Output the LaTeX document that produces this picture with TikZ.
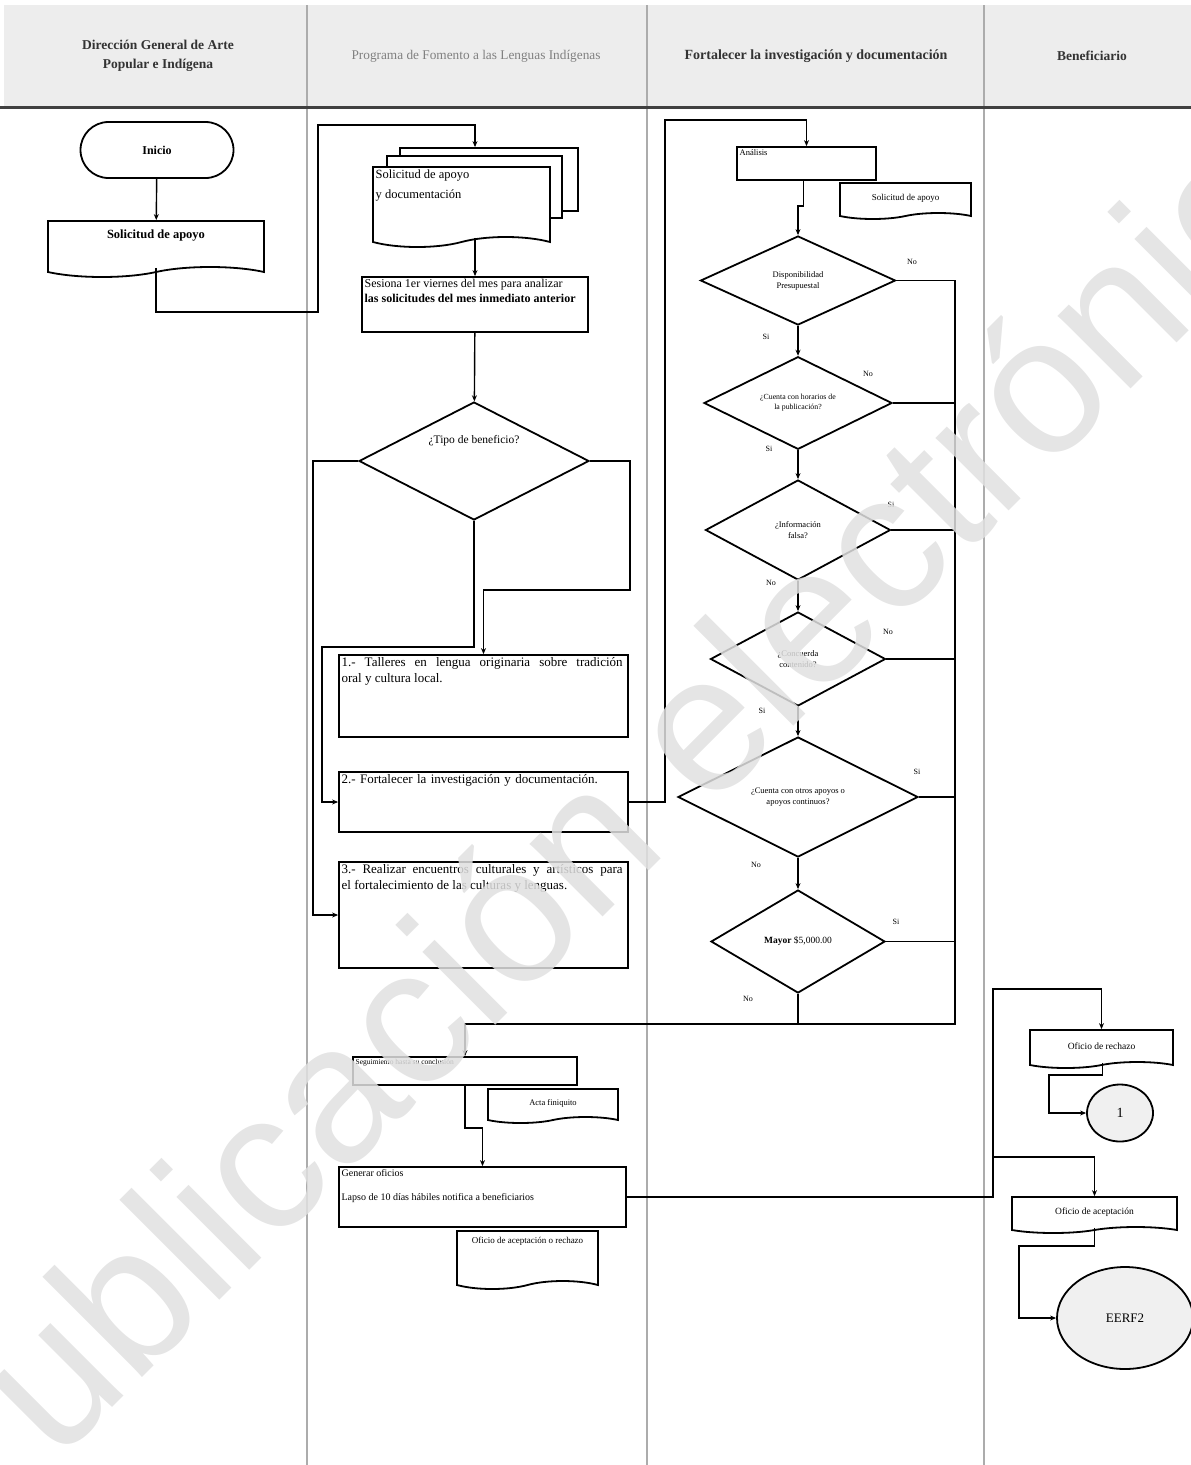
\documentclass[tikz,border=0pt]{standalone}
\usepackage{fontspec}
\setmainfont{Liberation Serif}
\newfontfamily\wmfont{Liberation Sans}
\usetikzlibrary{positioning, arrows.meta, shapes.geometric, shapes.symbols}
\newcommand\fsz[2]{\fontsize{#1}{#2}\selectfont}

\begin{document}
\begin{tikzpicture}[x=1pt, y=-1pt, font=\fsz{8}{10}, >={Stealth[length=6pt,width=5pt]},
  lane/.style={draw=gray!65, line width=1.4pt},
  hdr/.style={align=center, text=black!80, font=\fsz{13.5}{19}\bfseries},
  term/.style={draw, line width=1.8pt, rounded corners=28pt},
  proc/.style={draw, line width=1.8pt, fill=white, inner sep=0pt},
  doc/.style={draw, line width=1.8pt, fill=white, tape, tape bend top=none, tape bend bottom=in and out, tape bend height=10pt, inner sep=0pt},
  dec/.style={draw, diamond, line width=1.8pt, inner sep=0pt, align=center, font=\fsz{8.5}{11}},
  conn/.style={line width=1.4pt, ->},
  wire/.style={line width=1.4pt},
  yn/.style={font=\fsz{8}{9}},
  ovl/.style={draw, ellipse, line width=1.8pt, fill=gray!12},
  wm/.style={font=\wmfont\fsz{195}{195}, text=gray!24, opacity=0.85, rotate=45}]
  \clip (0,0) rectangle (1191,1465);
  % header and lanes
  \fill[black!7] (4,5) rectangle (1191,106);
  \foreach \x in {307,647,984} \draw[lane] (\x,5) -- (\x,1465);
  \draw[line width=3pt, black!75] (0,107) -- (1191,107);
  \node[hdr] (h1) at (158,56) {Dirección General de Arte\\Popular e Indígena};
  \node[hdr, font=\fsz{13.3}{16}, text=black!50] (h2) at (476,56) {Programa de Fomento a las Lenguas Indígenas};
  \node[hdr, font=\fsz{14}{16}\bfseries] (h3) at (816,56) {Fortalecer la investigación y documentación};
  \node[hdr] (h4) at (1092,56) {Beneficiario};

  % lane 1
  \node[term, minimum width=153, minimum height=56, font=\fsz{12}{14}\bfseries] (ini) at (157,150) {Inicio};
  \node[doc, minimum width=216, minimum height=56, label={[anchor=north, yshift=-6pt, font=\fsz{12.5}{14}\bfseries]north:Solicitud de apoyo}] (sol) at (156,244) {};
  \draw[conn] (ini) -- (sol);

  % lane 2
  \node[proc, minimum width=178, minimum height=63] (r3) at (489,179.5) {};
  \node[proc, minimum width=175, minimum height=62] (r2) at (474.5,187) {};
  \node[doc, minimum width=177, minimum height=80, label={[anchor=north west, align=left, font=\fsz{12.5}{20}]north west:Solicitud de apoyo\\y documentación}] (sd) at (461.5,202) {};
  \draw[conn] (sol.south) |- (318,312) -- (318,125) -| ([xshift=-14pt]r3.north);
  \node[proc, minimum width=226, minimum height=55, label={[anchor=north west, align=left, font=\fsz{12}{15}]north west:Sesiona 1er viernes del mes para analizar\\\textbf{las solicitudes del mes inmediato anterior}}] (ses) at (475,304.5) {};
  \draw[conn] (sd.south -| ses.north) -- (ses.north);
  \node[dec, minimum width=230, minimum height=118] (tipo) at (474,461) {};
  \node[font=\fsz{11.5}{13}] (tipot) at ([yshift=20pt]tipo.center) {¿Tipo de beneficio?};
  \draw[conn] (ses) -- (tipo);
  \node[proc, minimum width=289, minimum height=82, label={[anchor=north west, text width=281, align=justify, font=\fsz{13}{16}]north west:1.- Talleres en lengua originaria sobre tradición\linebreak oral y cultura local.}] (b1) at (483.5,696) {};
  \node[proc, minimum width=289, minimum height=60, label={[anchor=north west, text width=281, align=left, font=\fsz{13}{16}]north west:2.- Fortalecer la investigación y documentación.}] (b2) at (483.5,802) {};
  \node[proc, minimum width=289, minimum height=106, label={[anchor=north west, text width=281, align=justify, font=\fsz{13}{16}]north west:3.- Realizar encuentros culturales y artísticos para\linebreak el fortalecimiento de las culturas y lenguas.}] (b3) at (483.5,915) {};
  \draw[conn] (tipo.west) -- (313,461) |- (b3.west);
  \draw[conn] (tipo.south) |- (322,647) |- (b2.west);
  \draw[conn] (tipo.east) -| (630,590) -| (b1.north);

  % lane 3
  \node[doc, minimum width=131, minimum height=36, tape bend height=6pt, font=\fsz{9}{10}] (sa) at (905.5,198) {Solicitud de apoyo};
  \node[proc, minimum width=139, minimum height=33, label={[anchor=north west, font=\fsz{8.5}{10}]north west:Análisis}] (ana) at (806.5,163.5) {};
  \draw[conn] (b2.east) -| (665,120) -| (ana.north);
  \node[dec, minimum width=195, minimum height=89] (d1) at (798,280.5) {Disponibilidad\\Presupuestal};
  \node[dec, minimum width=188, minimum height=90, font=\fsz{7.8}{10}] (d2) at (798,403) {¿Cuenta con horarios de\\la publicación?};
  \node[dec, minimum width=185, minimum height=100] (d3) at (798,530) {¿Información\\falsa?};
  \node[dec, minimum width=175, minimum height=94] (d4) at (798,659) {¿Concuerda\\contenido?};
  \node[dec, minimum width=240, minimum height=120] (d5) at (798,797) {¿Cuenta con otros apoyos o\\apoyos continuos?};
  \node[dec, minimum width=174, minimum height=103, font=\fsz{9.5}{11}] (d6) at (798,941.5) {\textbf{Mayor} \$5,000.00};
  \draw[conn] ([xshift=-3pt]ana.south) -- ++(0,25) -| (d1.north);
  \foreach \a/\b in {d1/d2,d2/d3,d3/d4,d4/d5,d5/d6} \draw[conn] (\a) -- (\b);
  \node[yn] (n1) at (912,262) {No};  \node[yn] (s1) at (766,337) {Si};
  \node[yn] (n2) at (868,374) {No};  \node[yn] (s2) at (769,449) {Si};
  \node[yn] (s3) at (891,505) {Si};  \node[yn] (n3) at (771,583) {No};
  \node[yn] (n4) at (888,632) {No};  \node[yn] (s4) at (762,711) {Si};
  \node[yn] (s5) at (917,772) {Si};  \node[yn] (n5) at (756,865) {No};
  \node[yn] (s6) at (896,922) {Si};  \node[yn] (n6) at (748,999) {No};

  % lane 2, bottom
  \node[doc, minimum width=130, minimum height=34, tape bend height=6pt, font=\fsz{8.5}{10}] (acta) at (553,1103) {Acta finiquito};
  \node[proc, minimum width=224, minimum height=28, label={[anchor=north west, font=\fsz{7.5}{9}]north west:Seguimiento hasta su conclusión}] (seg) at (465,1071) {};
  \coordinate (col) at (955,1024);
  \draw[conn] (d1.east) -| (col) -| (seg.north);
  \foreach \d in {d2,d3,d4,d5,d6} \draw[wire] (\d.east) -- (\d.east -| col);
  \draw[wire] (d6.south) -- (d6.south |- col);
  \node[doc, minimum width=141, minimum height=58, tape bend height=8pt, label={[anchor=north, yshift=-4pt, font=\fsz{9}{10}]north:Oficio de aceptación o rechazo}] (ofi) at (527.5,1256) {};
  \node[proc, minimum width=287, minimum height=60, label={[anchor=north west, align=left, font=\fsz{10}{24}]north west:Generar oficios\\Lapso de 10 días hábiles notifica a beneficiarios}] (gen) at (482.5,1197) {};
  \draw[conn] (seg.south) -- ++(0,42) -| (gen.north);

  % lane 4
  \node[doc, minimum width=143, minimum height=38, tape bend height=6pt, font=\fsz{9.5}{11}] (rech) at (1101.5,1046) {Oficio de rechazo};
  \node[ovl, minimum width=66, minimum height=57, font=\fsz{14}{16}] (c1) at (1120,1113) {1};
  \node[doc, minimum width=165, minimum height=36, tape bend height=6pt, font=\fsz{9.5}{11}] (acep) at (1094.5,1212) {Oficio de aceptación};
  \node[ovl, minimum width=136, minimum height=102, font=\fsz{13}{15}] (e2) at (1125,1318) {EERF2};
  \coordinate (jn) at (993,1157);
  \draw[conn] (gen.east) -| (993,989) -| (rech.north);
  \draw[conn] (jn) -| (acep.north);
  \draw[conn] ([xshift=1pt]rech.south) -- ++(0,12) -| (1049,1113) -- (c1.west);
  \draw[conn] (acep.south) -- ++(0,18) -| (1019,1318) -- (e2.west);

  % watermark
  \node[wm] (mark) at (620,800) {Publicación electrónica};
\end{tikzpicture}
\end{document}
